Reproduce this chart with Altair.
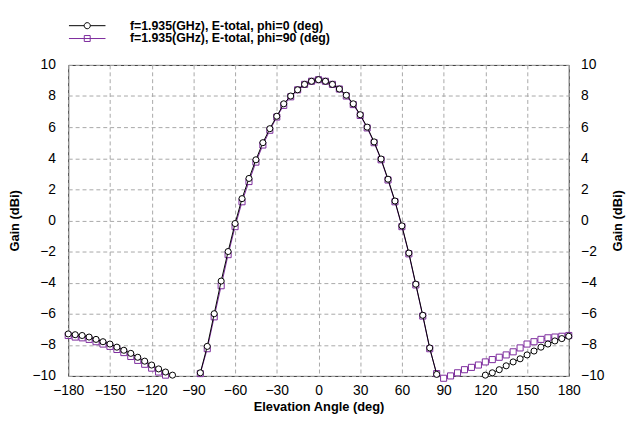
import altair as alt
import pandas as pd

angles = [-180, -175, -170, -165, -160, -155, -150, -145, -140, -135, -130, -125,
          -120, -115, -110, -105, -100, -95, -90, -85, -80, -75, -70, -65,
          -60, -55, -50, -45, -40, -35, -30, -25, -20, -15, -10, -5,
          0, 5, 10, 15, 20, 25, 30, 35, 40, 45, 50, 55,
          60, 65, 70, 75, 80, 85, 90, 95, 100, 105, 110, 115,
          120, 125, 130, 135, 140, 145, 150, 155, 160, 165, 170, 175, 180]

gain_phi0 = [-7.3, -7.35, -7.4, -7.5, -7.65, -7.8, -7.95, -8.15, -8.35, -8.55, -8.8, -9.05,
             -9.3, -9.55, -9.75, -9.95, -10.6, -12.5, -11.6, -9.8, -8.1, -6.0, -3.9, -2.0,
             -0.2, 1.4, 2.7, 3.9, 5.0, 5.9, 6.7, 7.5, 8.0, 8.4, 8.75, 8.95,
             9.05, 8.95, 8.75, 8.45, 8.05, 7.5, 6.8, 6.0, 5.05, 3.95, 2.65, 1.25,
             -0.35, -2.1, -4.1, -6.1, -8.2, -9.9, -11.8, -13.5, -14.5, -13.5, -12.0, -10.6,
             -9.95, -9.8, -9.6, -9.35, -9.1, -8.9, -8.65, -8.4, -8.15, -7.95, -7.75, -7.6, -7.45]

gain_phi90 = [-7.4, -7.5, -7.55, -7.65, -7.8, -7.95, -8.1, -8.3, -8.5, -8.75, -9.0, -9.25,
              -9.5, -9.75, -9.95, -10.5, -12.0, -13.5, -11.4, -9.85, -8.25, -6.2, -4.2, -2.2,
              -0.4, 1.2, 2.5, 3.75, 4.85, 5.8, 6.65, 7.4, 7.95, 8.4, 8.75, 8.95,
              9.05, 8.95, 8.75, 8.45, 8.0, 7.45, 6.75, 5.95, 5.0, 3.9, 2.6, 1.2,
              -0.4, -2.15, -4.15, -6.15, -8.25, -9.85, -10.15, -10.0, -9.8, -9.6, -9.45, -9.3,
              -9.1, -8.95, -8.8, -8.65, -8.45, -8.2, -7.95, -7.8, -7.65, -7.55, -7.5, -7.45, -7.4]

series_names = ["f=1.935(GHz), E-total, phi=0 (deg)",
                "f=1.935(GHz), E-total, phi=90 (deg)"]
series_colors = ["#000000", "#7c2a9c"]

x_ticks = [-180, -150, -120, -90, -60, -30, 0, 30, 60, 90, 120, 150, 180]
y_ticks = [-10, -8, -6, -4, -2, 0, 2, 4, 6, 8, 10]

rows = []
for a, g in zip(angles, gain_phi0):
    rows.append({"angle": a, "gain": g, "series": series_names[0]})
for a, g in zip(angles, gain_phi90):
    rows.append({"angle": a, "gain": g, "series": series_names[1]})
df = pd.DataFrame(rows)

FONT = "Liberation Sans"
W, H = 507, 315

x_axis = alt.Axis(values=x_ticks, title="Elevation Angle (deg)", grid=True,
                  labelPadding=8, labelOverlap=False, labelFlush=False,
                  titleY=31, titleBaseline="middle")
x_scale = alt.Scale(domain=[-180, 180], nice=False, zero=False)
x_enc = alt.X("angle:Q", scale=x_scale, axis=x_axis)

y_scale = alt.Scale(domain=[-10, 10], nice=False, zero=False)
y_left = alt.Y("gain:Q", scale=y_scale,
               axis=alt.Axis(values=y_ticks, title="Gain (dBi)", grid=True, orient="left",
                             labelPadding=13, labelOverlap=False, labelFlush=False,
                             titleAngle=270, titleX=-54, titleY=H / 2,
                             titleBaseline="middle", titleAlign="center"))
y_right = alt.Y("gain:Q", scale=y_scale,
                axis=alt.Axis(values=y_ticks, title="Gain (dBi)", grid=False, orient="right",
                              labelPadding=12, labelOverlap=False, labelFlush=False,
                              titleAngle=270, titleX=49, titleY=H / 2,
                              titleBaseline="middle", titleAlign="center"))
y_none = alt.Y("gain:Q", scale=y_scale, axis=None)

base = alt.Chart(df)
visible = "datum.gain >= -10.3"

line90 = base.transform_filter(alt.datum.series == series_names[1]).mark_line(
    color=series_colors[1], strokeWidth=1, clip=True).encode(x=x_enc, y=y_left)
pts90 = base.transform_filter(alt.datum.series == series_names[1]).transform_filter(visible).mark_point(
    shape="square", size=38, filled=False, stroke=series_colors[1], strokeWidth=1,
    fill="white", opacity=1).encode(x=x_enc, y=y_none)
line0 = base.transform_filter(alt.datum.series == series_names[0]).mark_line(
    color=series_colors[0], strokeWidth=1, clip=True).encode(x=x_enc, y=y_none)
pts0 = base.transform_filter(alt.datum.series == series_names[0]).transform_filter(visible).mark_point(
    shape="circle", size=38, filled=False, stroke=series_colors[0], strokeWidth=1,
    fill="white", opacity=1).encode(x=x_enc, y=y_right)

path_circle = "M-3.7,0L-0.62,0M0.62,0L3.7,0M-0.62,0A0.62,0.62,0,1,0,0.62,0A0.62,0.62,0,1,0,-0.62,0"
path_square = "M-3.7,0L3.7,0M-0.6,-0.6L0.6,-0.6L0.6,0.6L-0.6,0.6Z"

legend = alt.Legend(title=None, orient="none", legendX=13, legendY=-46, padding=0,
                    labelFont=FONT, labelFontWeight="bold", labelFontSize=12.5,
                    labelColor="#000000", labelLimit=0, symbolSize=100, symbolStrokeWidth=1,
                    labelOffset=37, rowPadding=-2, symbolOpacity=1)
legend_layer = base.transform_filter("false").mark_point(
    filled=False, opacity=1, strokeWidth=1).encode(
    x=alt.X("angle:Q", scale=x_scale, axis=x_axis),
    y=y_none,
    shape=alt.Shape("series:N", scale=alt.Scale(domain=series_names,
                                                 range=[path_circle, path_square]),
                    legend=legend),
    color=alt.Color("series:N", scale=alt.Scale(domain=series_names, range=series_colors),
                    legend=legend),
)

chart = alt.layer(line90, pts90, line0, pts0, legend_layer).resolve_axis(
    y="independent"
).properties(
    width=W, height=H,
    autosize=alt.AutoSizeParams(type="none"),
    padding={"left": 61, "top": 55, "right": 60, "bottom": 43},
    background="white",
).configure_view(
    stroke="#303030", strokeWidth=1
).configure_axis(
    domain=False, ticks=False,
    labelFont=FONT, labelFontSize=14, labelColor="#000000",
    titleFont=FONT, titleFontSize=13, titleFontWeight="bold", titleColor="#000000",
    gridColor="#a8a8a8", gridDash=[4, 3], gridWidth=1, gridOpacity=1,
)

chart.save("out.html", embed_options={"renderer": "svg", "actions": False})
